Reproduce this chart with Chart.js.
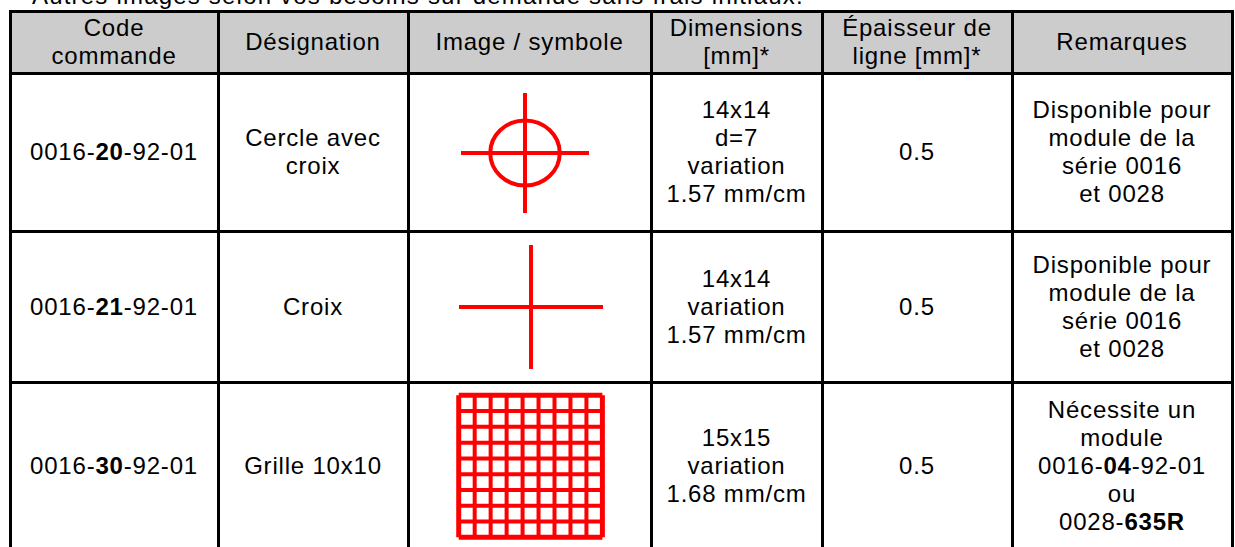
<!DOCTYPE html>
<html lang="fr">
<head>
<meta charset="utf-8">
<script src="https://cdn.jsdelivr.net/npm/chart.js@4"></script>
<style>
  body { margin: 0; background: #fff; width: 1235px; height: 547px; overflow: hidden; position: relative;
         font-family: "Liberation Sans", Arial, sans-serif; color: #000; }
  .titre { position: absolute; left: 32px; top: -16px; font-size: 24px; line-height: 24px; letter-spacing: 1.2px; white-space: nowrap; }
  .trait { position: absolute; background: #000; }
  .entete { position: absolute; background: #cccccc; }
  .cellule { position: absolute; display: flex; align-items: center; justify-content: center; text-align: center;
             font-size: 24px; line-height: 28px; letter-spacing: 0.8px; }
  .cellule span { display: block; white-space: nowrap; }
  canvas { position: absolute; }
</style>
</head>
<body>
<div class="titre">Autres images selon vos besoins sur demande sans frais initiaux.</div>

<canvas id="symbole1" width="224" height="154" style="left:413px;top:76px"></canvas>
<canvas id="symbole2" width="236" height="146" style="left:413px;top:234px"></canvas>
<canvas id="symbole3" width="236" height="161" style="left:413px;top:386px"></canvas>

<script>
// Textes du tableau
const entetes = ["Code<br>commande", "Désignation", "Image / symbole", "Dimensions<br>[mm]*", "Épaisseur de<br>ligne [mm]*", "Remarques"];
const codes = ["0016-<b>20</b>-92-01", "0016-<b>21</b>-92-01", "0016-<b>30</b>-92-01"];
const designations = ["Cercle avec<br>croix", "Croix", "Grille 10x10"];
const dimensions = ["14x14<br>d=7<br>variation<br>1.57 mm/cm", "14x14<br>variation<br>1.57 mm/cm", "15x15<br>variation<br>1.68 mm/cm"];
const epaisseurs = ["0.5", "0.5", "0.5"];
const remarques = [
  "Disponible pour<br>module de la<br>série 0016<br>et 0028",
  "Disponible pour<br>module de la<br>série 0016<br>et 0028",
  "Nécessite un<br>module<br>0016-<b>04</b>-92-01<br>ou<br>0028-<b>635R</b>"
];

// Symbole 1 : cercle avec croix (mm)
const croix1X = [-7, 7];
const croix1Y = [-7, 7];
const cercle1 = { cx: 0, cy: 0, r: 3.8 };
// Symbole 2 : croix (mm)
const croix2X = [-7, 7];
const croix2Y = [-7, 7];
// Symbole 3 : grille 10x10 (positions des lignes)
const grilleLignes = [0, 1, 2, 3, 4, 5, 6, 7, 8, 9];

// Geometrie du tableau (px)
const colonnes = [10, 218, 408, 651, 822, 1012, 1232];
const lignes = [11.5, 73, 231, 382.5, 550];

function ajouterDiv(classe, x, y, w, h, html) {
  const el = document.createElement("div");
  el.className = classe;
  el.style.left = x + "px";
  el.style.top = y + "px";
  el.style.width = w + "px";
  el.style.height = h + "px";
  if (html) el.innerHTML = "<span>" + html + "</span>";
  document.body.appendChild(el);
  return el;
}

// fond gris de l'entete
ajouterDiv("entete", colonnes[0], lignes[0], colonnes[6] - colonnes[0], lignes[1] - lignes[0]);

for (let c = 0; c < 6; c++) {
  ajouterDiv("cellule", colonnes[c], lignes[0], colonnes[c + 1] - colonnes[c], lignes[1] - lignes[0], entetes[c]);
}
const colonnesTexte = [codes, designations, null, dimensions, epaisseurs, remarques];
for (let r = 0; r < 3; r++) {
  for (let c = 0; c < 6; c++) {
    if (colonnesTexte[c] === null) continue;
    ajouterDiv("cellule", colonnes[c], lignes[r + 1], colonnes[c + 1] - colonnes[c], lignes[r + 2] - lignes[r + 1], colonnesTexte[c][r]);
  }
}

// traits noirs
for (let i = 0; i < 4; i++) {
  ajouterDiv("trait", colonnes[0] - 1.5, lignes[i] - 1.5, colonnes[6] - colonnes[0] + 3, 3.2);
}
for (let i = 0; i < colonnes.length; i++) {
  ajouterDiv("trait", colonnes[i] - 1.5, lignes[0] - 1.5, 3, 560);
}

// Dessin des symboles avec Chart.js
const rouge = "#ff0000";

function segment(p1, p2, largeur) {
  return {
    data: [p1, p2],
    showLine: true,
    borderColor: rouge,
    borderWidth: largeur,
    borderCapStyle: "butt",
    pointRadius: 0,
    clip: false
  };
}

const pluginCercle = {
  id: "cercle",
  afterDatasetsDraw(chart, args, opts) {
    if (!opts || opts.r === undefined) return;
    const sx = chart.scales.x, sy = chart.scales.y;
    const px = sx.getPixelForValue(opts.cx), py = sy.getPixelForValue(opts.cy);
    const rx = Math.abs(sx.getPixelForValue(opts.cx + opts.r) - px);
    const ry = Math.abs(sy.getPixelForValue(opts.cy + opts.r) - py);
    const ctx = chart.ctx;
    ctx.save();
    ctx.beginPath();
    ctx.ellipse(px, py, rx, ry, 0, 0, Math.PI * 2);
    ctx.strokeStyle = rouge;
    ctx.lineWidth = 4;
    ctx.stroke();
    ctx.restore();
  }
};

function creerSymbole(id, datasets, xMin, xMax, yMin, yMax, cercle) {
  return new Chart(document.getElementById(id), {
    type: "scatter",
    data: { datasets: datasets },
    options: {
      responsive: false,
      animation: false,
      devicePixelRatio: 1,
      layout: { padding: 0 },
      plugins: { legend: { display: false }, tooltip: { enabled: false }, cercle: cercle || {} },
      scales: {
        x: { type: "linear", display: false, min: xMin, max: xMax },
        y: { type: "linear", display: false, min: yMin, max: yMax }
      }
    },
    plugins: [pluginCercle]
  });
}

creerSymbole("symbole1", [
  segment({ x: croix1X[0], y: 0 }, { x: croix1X[1], y: 0 }, 4),
  segment({ x: 0, y: croix1Y[0] }, { x: 0, y: croix1Y[1] }, 4)
], -12.25, 12.25, -8.98, 8.98, cercle1);

creerSymbole("symbole2", [
  segment({ x: croix2X[0], y: 0 }, { x: croix2X[1], y: 0 }, 4),
  segment({ x: 0, y: croix2Y[0] }, { x: 0, y: croix2Y[1] }, 4)
], -11.47, 11.47, -8.24, 8.24);

const premier = grilleLignes[0], dernier = grilleLignes[grilleLignes.length - 1];
const grille = [];
for (let v of grilleLignes) {
  const bord = (v === premier || v === dernier);
  grille.push(segment({ x: v, y: premier }, { x: v, y: dernier }, bord ? 5 : 4));
  grille.push(segment({ x: premier, y: v }, { x: dernier, y: v }, bord ? 5 : 4));
}
creerSymbole("symbole3", grille, -2.864, 11.92, -0.614, 9.589);
</script>
</body>
</html>
